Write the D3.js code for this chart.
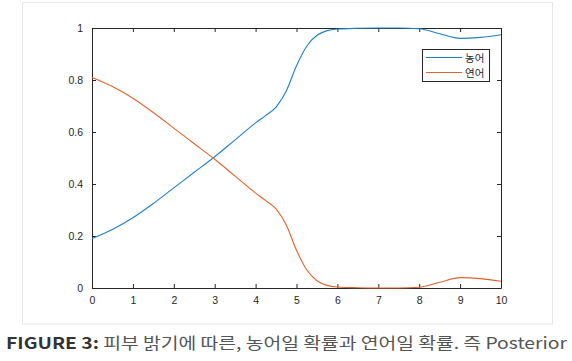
<!DOCTYPE html>
<html><head><meta charset="utf-8">
<script src="https://cdn.jsdelivr.net/npm/d3@7"></script>
<style>body{margin:0;background:#fff}svg{display:block}</style>
</head><body>
<svg id="c" width="572" height="361"></svg>
<script>
const xs      = [0, 0.5, 1, 1.5, 2, 2.5, 3, 3.5, 4, 4.25, 4.5, 4.75, 5, 5.25, 5.5, 5.75, 6, 6.5, 7, 7.5, 8, 8.5, 9, 9.5, 10];
const perch   = [0.19, 0.225, 0.27, 0.325, 0.385, 0.445, 0.505, 0.57, 0.635, 0.664, 0.696, 0.758, 0.855, 0.93, 0.972, 0.99, 0.996, 0.999, 1.0, 1.0, 0.997, 0.978, 0.96, 0.964, 0.974];
const salmon  = [0.81, 0.775, 0.73, 0.675, 0.615, 0.555, 0.495, 0.43, 0.365, 0.336, 0.304, 0.242, 0.145, 0.07, 0.028, 0.01, 0.004, 0.001, 0.0, 0.0, 0.003, 0.022, 0.04, 0.036, 0.026];
const seriesNames = ["농어", "연어"];
const xTicks = [0,1,2,3,4,5,6,7,8,9,10];
const yTicks = [0,0.2,0.4,0.6,0.8,1];
const caption = ["FIGURE 3:", " 피부 밝기에 따른, 농어일 확률과 연어일 확률. 즉 Posterior"];

const svg = d3.select("#c");
const colors = ["#1f80c8", "#e0642e"];
const axisColor = "#262626";
const L = 92, R = 501, T = 28, B = 288;
const x = d3.scaleLinear().domain([0,10]).range([L,R]);
const y = d3.scaleLinear().domain([0,1]).range([B,T]);

// outer frame
svg.append("rect").attr("x",22.5).attr("y",2.5).attr("width",530).attr("height",321.5)
  .attr("fill","#fff").attr("stroke","#e6e6e6").attr("stroke-width",1);

const font = "'Liberation Sans', Arial, sans-serif";
function styleAxis(g){
  g.selectAll("path").attr("stroke",axisColor).attr("stroke-width",1);
  g.selectAll("line").attr("stroke",axisColor);
  g.selectAll("text").attr("fill",axisColor).style("font-family",font).style("font-size","10.5px");
}
const fmt = d => d3.format("~g")(d);
svg.append("g").attr("transform",`translate(0,${B})`)
  .call(d3.axisBottom(x).tickValues(xTicks).tickFormat(fmt).tickSizeInner(-4).tickSizeOuter(0).tickPadding(9)).call(styleAxis);
svg.append("g").attr("transform",`translate(0,${T})`)
  .call(d3.axisTop(x).tickValues(xTicks).tickFormat("").tickSizeInner(-4).tickSizeOuter(0)).call(styleAxis);
svg.append("g").attr("transform",`translate(${L},0)`)
  .call(d3.axisLeft(y).tickValues(yTicks).tickFormat(fmt).tickSizeInner(-4).tickSizeOuter(0).tickPadding(9)).call(styleAxis);
svg.append("g").attr("transform",`translate(${R},0)`)
  .call(d3.axisRight(y).tickValues(yTicks).tickFormat("").tickSizeInner(-4).tickSizeOuter(0)).call(styleAxis);

const line = d3.line().x((d,i)=>x(xs[i])).y(d=>y(d)).curve(d3.curveMonotoneX);
[perch, salmon].forEach((s,k)=>{
  svg.append("path").datum(s).attr("d",line).attr("fill","none")
    .attr("stroke",colors[k]).attr("stroke-width",1.1);
});

// legend
const lg = svg.append("g");
lg.append("rect").attr("x",422.5).attr("y",49.5).attr("width",67).attr("height",32)
  .attr("fill","#fff").attr("stroke",axisColor).attr("stroke-width",1);
seriesNames.forEach((n,i)=>{
  const yy = 57.5 + i*15;
  lg.append("line").attr("x1",426).attr("x2",462).attr("y1",yy).attr("y2",yy)
    .attr("stroke",colors[i]).attr("stroke-width",1.1);
  lg.append("text").attr("x",465).attr("y",yy+4).text(n)
    .attr("fill",axisColor).style("font-family","'Noto Sans CJK KR', sans-serif").style("font-size","10.5px");
});

// caption
const cap = svg.append("text").attr("x",6).attr("y",349)
  .attr("textLength",561).attr("lengthAdjust","spacingAndGlyphs")
  .style("font-family","'Noto Sans CJK KR', 'Open Sans', sans-serif").style("font-size","16px");
cap.append("tspan").text(caption[0]).attr("font-weight","bold").attr("fill","#333");
cap.append("tspan").text(caption[1]).attr("fill","#555");
</script>
</body></html>
